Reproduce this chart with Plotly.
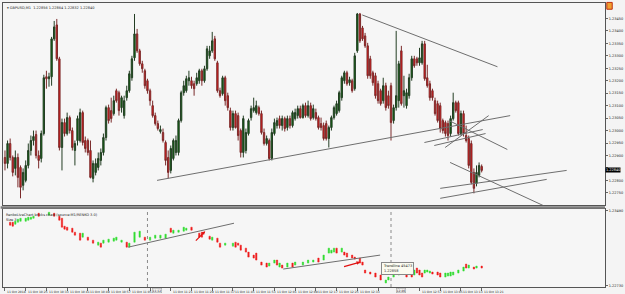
import pandas as pd
import plotly.graph_objects as go

# ---------------- main pane: GBPUSD M1 candles (price) ----------------
op = [1.22892,1.22868,1.22948,1.22892,1.22848,1.22892,1.22852,1.22780,1.22800,1.22860,
      1.22920,1.22960,1.22984,1.22900,1.22888,1.22988,1.23216,1.23208,1.23216,1.23368,
      1.23424,1.23288,1.22932,1.23032,1.22988,1.23052,1.23000,1.22920,1.22960,1.22960,
      1.23072,1.22960,1.22960,1.22920,1.22808,1.22832,1.22852,1.22880,1.22912,1.22972,
      1.23092,1.23080,1.23068,1.23160,1.23152,1.23092,1.23060,1.23132,1.23160,1.23212,
      1.23292,1.23388,1.23320,1.23268,1.23240,1.23200,1.23160,1.23100,1.23060,1.23028,
      1.22996,1.22992,1.22952,1.22892,1.22840,1.22888,1.22912,1.22912,1.23040,1.23152,
      1.23160,1.23200,1.23200,1.23188,1.23188,1.23200,1.23240,1.23200,1.23248,1.23300,
      1.23320,1.23368,1.23272,1.23160,1.23148,1.23212,1.23140,1.23080,1.23012,1.23068,
      1.23060,1.23000,1.22912,1.22920,1.22988,1.23052,1.23080,1.23072,1.23092,1.23068,
      1.22992,1.22948,1.22960,1.22888,1.22988,1.23020,1.23048,1.23020,1.23048,1.23012,
      1.23048,1.23020,1.23048,1.23060,1.23088,1.23052,1.23100,1.23060,1.23100,1.23052,
      1.23072,1.23052,1.23028,1.23020,1.23028,1.22968,1.23012,1.23052,1.23068,1.23080,
      1.23132,1.23200,1.23232,1.23192,1.23200,1.23168,1.23320,1.23468,1.23412,1.23380,
      1.23340,1.23288,1.23232,1.23220,1.23188,1.23160,1.23120,1.23180,1.23140,1.23180,
      1.23040,1.23092,1.23120,1.23320,1.23140,1.23100,1.23140,1.23212,1.23288,1.23288,
      1.23272,1.23272,1.23348,1.23212,1.23188,1.23160,1.23120,1.23108,1.23100,1.23040,
      1.23032,1.23028,1.22988,1.23048,1.23112,1.23112,1.22988,1.23068,1.22980,1.22968,
      1.22948,1.22832,1.22788,1.22820,1.22856]
hi = [1.22920,1.22960,1.22968,1.22900,1.22920,1.22908,1.22860,1.22848,1.22880,1.22948,
      1.22980,1.23000,1.23000,1.22920,1.23000,1.23224,1.23240,1.23232,1.23376,1.23440,
      1.23448,1.23296,1.23048,1.23048,1.23072,1.23060,1.23012,1.22960,1.23060,1.23088,
      1.23080,1.22976,1.22968,1.22960,1.22880,1.22888,1.22912,1.22928,1.22988,1.23100,
      1.23104,1.23132,1.23140,1.23168,1.23160,1.23140,1.23140,1.23180,1.23240,1.23300,
      1.23468,1.23408,1.23328,1.23280,1.23248,1.23208,1.23168,1.23120,1.23072,1.23040,
      1.23020,1.23008,1.22960,1.22920,1.22940,1.22968,1.22980,1.23048,1.23160,1.23200,
      1.23220,1.23240,1.23216,1.23200,1.23232,1.23248,1.23248,1.23260,1.23340,1.23340,
      1.23396,1.23380,1.23280,1.23172,1.23220,1.23220,1.23152,1.23092,1.23080,1.23080,
      1.23072,1.23008,1.23060,1.23008,1.23048,1.23100,1.23132,1.23120,1.23100,1.23080,
      1.23008,1.22980,1.22968,1.23008,1.23048,1.23052,1.23060,1.23060,1.23056,1.23060,
      1.23060,1.23080,1.23088,1.23100,1.23100,1.23108,1.23112,1.23120,1.23112,1.23104,
      1.23088,1.23060,1.23052,1.23032,1.23040,1.23020,1.23060,1.23100,1.23120,1.23160,
      1.23220,1.23240,1.23240,1.23216,1.23208,1.23312,1.23472,1.23472,1.23420,1.23392,
      1.23352,1.23300,1.23240,1.23232,1.23200,1.23168,1.23212,1.23192,1.23160,1.23192,
      1.23104,1.23400,1.23280,1.23340,1.23220,1.23168,1.23228,1.23300,1.23300,1.23296,
      1.23332,1.23360,1.23360,1.23264,1.23200,1.23168,1.23132,1.23120,1.23112,1.23048,
      1.23040,1.23040,1.23060,1.23152,1.23120,1.23120,1.23080,1.23080,1.23020,1.22980,
      1.22960,1.22848,1.22860,1.22872,1.22864]
lo = [1.22840,1.22848,1.22880,1.22816,1.22820,1.22772,1.22728,1.22760,1.22792,1.22848,
      1.22900,1.22940,1.22888,1.22848,1.22872,1.22980,1.23168,1.23176,1.23180,1.23360,
      1.23280,1.22920,1.22840,1.22976,1.22980,1.22988,1.22920,1.22860,1.22940,1.22952,
      1.22940,1.22912,1.22900,1.22808,1.22792,1.22820,1.22840,1.22860,1.22900,1.22960,
      1.23028,1.23032,1.23060,1.23112,1.23060,1.23072,1.23048,1.23120,1.23152,1.23200,
      1.23280,1.23312,1.23260,1.23232,1.23168,1.23148,1.23100,1.23052,1.23020,1.23000,
      1.22988,1.22952,1.22860,1.22808,1.22828,1.22880,1.22900,1.22900,1.23032,1.23140,
      1.23152,1.23180,1.23168,1.23140,1.23180,1.23188,1.23180,1.23192,1.23240,1.23288,
      1.23312,1.23280,1.23152,1.23132,1.23140,1.23100,1.23080,1.23000,1.23000,1.23008,
      1.22960,1.22892,1.22892,1.22908,1.22980,1.23040,1.23072,1.23064,1.23060,1.22984,
      1.22940,1.22940,1.22880,1.22880,1.22980,1.23008,1.23008,1.23000,1.22996,1.23000,
      1.23008,1.23012,1.23040,1.23048,1.23048,1.23048,1.23052,1.23052,1.23040,1.23044,
      1.23040,1.23004,1.23000,1.22960,1.22960,1.22932,1.23000,1.23044,1.23060,1.23072,
      1.23120,1.23188,1.23180,1.23180,1.23152,1.23160,1.23312,1.23352,1.23360,1.23332,
      1.23208,1.23208,1.23180,1.23128,1.23108,1.23100,1.23108,1.23080,1.23088,1.22960,
      1.23028,1.23080,1.23092,1.23100,1.23092,1.23088,1.23128,1.23200,1.23252,1.23260,
      1.23260,1.23264,1.23200,1.23172,1.23120,1.23120,1.23060,1.23032,1.22992,1.22988,
      1.22976,1.22960,1.22976,1.23040,1.23072,1.22980,1.22980,1.22976,1.22952,1.22848,
      1.22784,1.22748,1.22776,1.22812,1.22832]
cl = [1.22868,1.22948,1.22892,1.22832,1.22892,1.22812,1.22772,1.22832,1.22860,1.22920,
      1.22960,1.22976,1.22900,1.22880,1.22988,1.23212,1.23208,1.23216,1.23368,1.23416,
      1.23288,1.22932,1.23032,1.22988,1.23052,1.23000,1.22932,1.22948,1.23048,1.23072,
      1.22952,1.22928,1.22912,1.22812,1.22868,1.22868,1.22888,1.22912,1.22972,1.23092,
      1.23040,1.23048,1.23120,1.23120,1.23080,1.23132,1.23120,1.23160,1.23228,1.23288,
      1.23388,1.23320,1.23268,1.23248,1.23180,1.23160,1.23120,1.23060,1.23028,1.23008,
      1.23004,1.22960,1.22880,1.22832,1.22928,1.22960,1.22960,1.23040,1.23152,1.23180,
      1.23208,1.23212,1.23180,1.23168,1.23212,1.23240,1.23200,1.23248,1.23328,1.23320,
      1.23360,1.23288,1.23160,1.23140,1.23212,1.23120,1.23092,1.23012,1.23068,1.23012,
      1.22980,1.22912,1.23048,1.22992,1.23040,1.23088,1.23092,1.23100,1.23068,1.22992,
      1.22948,1.22968,1.22888,1.22992,1.23032,1.23040,1.23020,1.23048,1.23008,1.23048,
      1.23020,1.23072,1.23072,1.23088,1.23052,1.23100,1.23060,1.23100,1.23048,1.23088,
      1.23048,1.23012,1.23012,1.22968,1.22968,1.23012,1.23052,1.23092,1.23108,1.23152,
      1.23212,1.23232,1.23188,1.23204,1.23160,1.23300,1.23468,1.23360,1.23368,1.23340,
      1.23220,1.23220,1.23192,1.23140,1.23120,1.23108,1.23180,1.23092,1.23100,1.23032,
      1.23092,1.23140,1.23268,1.23108,1.23160,1.23152,1.23212,1.23288,1.23260,1.23272,
      1.23292,1.23348,1.23208,1.23180,1.23132,1.23132,1.23068,1.23040,1.23008,1.23000,
      1.22988,1.22980,1.23048,1.23112,1.23080,1.22988,1.23068,1.22988,1.22960,1.22860,
      1.22792,1.22768,1.22832,1.22860,1.22840]

# ---------------- lower pane: renko bricks (bar index, open, close) ----------------
renko_bar = [2,3,4,5,6,8,9,10,11,13,17,19,21,22,23,24,26,27,29,30,32,34,36,37,38,40,42,43,45,47,
             48,50,52,54,56,58,60,62,64,65,67,69,70,72,75,76,79,80,82,83,85,88,89,90,91,93,94,96,97,99,
             101,102,104,105,106,107,109,111,112,115,117,119,121,123,125,126,127,128,130,131,132,134,135,137,138,139,141,143,145,147,
             148,150,152,153,155,157,158,159,160,161,162,163,164,165,167,168,170,171,172,173,175,177,178,179,181,182,184]
renko_open = [1.2337,1.2337,1.2335,1.2337,1.2338,1.2338,1.2339,1.2340,1.2341,1.2346,1.2344,1.2346,1.2343,1.2341,1.2333,1.2332,1.2331,1.2327,1.2326,1.2322,
              1.2322,1.2319,1.2314,1.2316,1.2316,1.2317,1.2318,1.2319,1.2317,1.2317,
              1.2312,1.2317,1.2322,1.2322,1.2319,1.2321,1.2321,1.2321,1.2331,1.2326,1.2327,1.2328,1.2329,1.2332,1.2326,1.2327,1.2323,1.2319,1.2321,1.2316,
              1.2314,1.2313,1.2317,1.2316,1.2314,1.2311,1.2307,1.2304,1.2306,1.2297,
              1.2296,1.2293,1.2296,1.2299,1.2292,1.2294,1.2292,1.2296,1.2294,1.2294,1.2296,1.2297,1.2301,1.2299,1.2306,1.2306,1.2307,1.2311,1.2307,1.2307,
              1.2306,1.2304,1.2302,1.2301,1.2297,1.2289,1.2287,1.2286,1.2284,1.2276,
              1.2279,1.2282,1.2284,1.2285,1.2287,1.2286,1.2284,1.2291,1.2289,1.2286,1.2286,1.2287,1.2286,1.2287,1.2287,1.2286,1.2282,1.2283,1.2283,1.2284,
              1.2286,1.2288,1.2295,1.2291,1.2292,1.2291,1.2293]
renko_close = [1.2334,1.2333,1.2338,1.2340,1.2341,1.2341,1.2342,1.2342,1.2343,1.2343,1.2347,1.2343,1.2339,1.2332,1.2330,1.2329,1.2327,1.2324,1.2319,1.2326,
               1.2319,1.2316,1.2317,1.2312,1.2319,1.2320,1.2321,1.2322,1.2319,1.2312,
               1.2316,1.2327,1.2328,1.2319,1.2322,1.2324,1.2324,1.2325,1.2327,1.2329,1.2329,1.2332,1.2331,1.2329,1.2322,1.2322,1.2320,1.2322,1.2317,1.2312,
               1.2316,1.2316,1.2312,1.2314,1.2309,1.2307,1.2302,1.2301,1.2299,1.2294,
               1.2292,1.2296,1.2299,1.2294,1.2296,1.2291,1.2296,1.2292,1.2297,1.2297,1.2299,1.2299,1.2297,1.2304,1.2311,1.2309,1.2311,1.2306,1.2311,1.2304,
               1.2302,1.2301,1.2300,1.2296,1.2294,1.2286,1.2285,1.2282,1.2279,1.2279,
               1.2282,1.2286,1.2287,1.2288,1.2282,1.2282,1.2289,1.2286,1.2284,1.2282,1.2289,1.2289,1.2288,1.2285,1.2284,1.2282,1.2286,1.2286,1.2287,1.2287,
               1.2289,1.2292,1.2291,1.2294,1.2290,1.2293,1.2291]

# trendlines: (bar offset start, price start, bar offset end, price end)
main_tl_x0 = [137.9, 58.7, 161.9, 165.7, 169.9, 171.4, 171.8, 168.0, 168.0]
main_tl_y0 = [1.23464, 1.22800, 1.22952, 1.22940, 1.22932, 1.23040, 1.22872, 1.22768, 1.22728]
main_tl_x1 = [190.1, 195.0, 184.4, 185.5, 186.7, 193.9, 208.4, 216.8, 209.1]
main_tl_y1 = [1.23256, 1.23060, 1.23004, 1.22988, 1.23060, 1.22924, 1.22696, 1.22840, 1.22804]
low_tl_x0 = [47.6, 107.4]
low_tl_y0 = [1.2312, 1.2290]
low_tl_x1 = [88.4, 144.8]
low_tl_y1 = [1.2336, 1.2304]
arrow_x0 = [73.1, 130.3]
arrow_y0 = [1.2317, 1.2292]
arrow_x1 = [77.3, 137.1]
arrow_y1 = [1.2328, 1.2297]

main_ticks = [1.2275, 1.2280, 1.2285, 1.2290, 1.2295, 1.2300, 1.2305, 1.2310,
              1.2315, 1.2320, 1.2325, 1.2330, 1.2335, 1.2340, 1.2345]
low_ticks = [1.2349, 1.2273]
label_step_min = 8
sep_bars = [55, 149]
sep_labels = ["11:12", "12:46"]

start = pd.Timestamp("2018-10-11 10:17")
def t(v):
    return start + pd.Timedelta(minutes=float(v))

times = [t(i) for i in range(len(op))]

fig = go.Figure()
fig.add_trace(go.Candlestick(
    x=times, open=op, high=hi, low=lo, close=cl, xaxis="x", yaxis="y",
    increasing=dict(fillcolor="#0a6a0a", line=dict(color="#233d23", width=1)),
    decreasing=dict(fillcolor="#ee1414", line=dict(color="#7a2a2a", width=1)),
    showlegend=False, hoverinfo="skip"))

rk_x = [times[b] for b in renko_bar]
rk_hi = [max(a, b) for a, b in zip(renko_open, renko_close)]
rk_lo = [min(a, b) for a, b in zip(renko_open, renko_close)]
fig.add_trace(go.Candlestick(
    x=rk_x, open=renko_open, high=rk_hi, low=rk_lo, close=renko_close,
    xaxis="x2", yaxis="y2",
    increasing=dict(fillcolor="#33dd33", line=dict(color="#33dd33", width=0.5)),
    decreasing=dict(fillcolor="#ee1c1c", line=dict(color="#ee1c1c", width=0.5)),
    showlegend=False, hoverinfo="skip"))

shapes = []
for a, b, c, d in zip(main_tl_x0, main_tl_y0, main_tl_x1, main_tl_y1):
    shapes.append(dict(type="line", xref="x", yref="y", x0=t(a), y0=b, x1=t(c), y1=d,
                       line=dict(color="#6e6e6e", width=1)))
for a, b, c, d in zip(low_tl_x0, low_tl_y0, low_tl_x1, low_tl_y1):
    shapes.append(dict(type="line", xref="x2", yref="y2", x0=t(a), y0=b, x1=t(c), y1=d,
                       line=dict(color="#6e6e6e", width=1)))
for s in sep_bars:
    shapes.append(dict(type="line", xref="x2", yref="y2 domain", x0=t(s), x1=t(s), y0=0, y1=1,
                       line=dict(color="#8a8a8a", width=1, dash="dot")))
# pane separator
shapes.append(dict(type="rect", xref="paper", yref="paper", x0=-0.004, x1=1.0, y0=0.2757, y1=0.2842,
                   fillcolor="#7c7c7c", line=dict(width=0)))
# small icon top right
shapes.append(dict(type="rect", xref="paper", yref="paper", x0=1.003, x1=1.012, y0=0.978, y1=1.002,
                   fillcolor="#f0a030", line=dict(color="#c03010", width=1)))

ann = []
ann.append(dict(xref="paper", yref="paper", x=0.004, y=0.997, xanchor="left", yanchor="top",
                text="▾ GBPUSD,M1  1.22856 1.22864 1.22832 1.22840", showarrow=False,
                font=dict(size=3.5, color="#222")))
ann.append(dict(xref="paper", yref="paper", x=0.002, y=0.268, xanchor="left", yanchor="top",
                text="RenkoLiveChart bricks chart (source:M1/RENKO 3.0)<br>Size 3", showarrow=False,
                align="left", font=dict(size=3.5, color="#222")))
ann.append(dict(xref="paper", yref="y", x=1.0, y=cl[-1], xanchor="left", yanchor="middle",
                text="1.22840", showarrow=False, bgcolor="#000", borderpad=0,
                font=dict(size=3.5, color="#fff")))
for a, b, c, d in zip(arrow_x0, arrow_y0, arrow_x1, arrow_y1):
    ann.append(dict(xref="x2", yref="y2", axref="x2", ayref="y2", x=t(c), y=d, ax=t(a), ay=b,
                    text="", showarrow=True, arrowhead=2, arrowsize=0.6, arrowwidth=1.2,
                    arrowcolor="#e01010"))
ann.append(dict(xref="x2", yref="y2", x=t(145.3), y=1.2297, xanchor="left", yanchor="top",
                text="Trendline 45473<br>1.22858", showarrow=False, align="left",
                bgcolor="#fbfbf0", bordercolor="#888", borderwidth=1, borderpad=1,
                font=dict(size=3.5, color="#222")))
# time labels
tick_times = []
k = 0
while k * label_step_min < len(op):
    m = k * label_step_min
    tick_times.append(t(m))
    if k == 0:
        txt = "11 Oct 2018"
    else:
        txt = t(m).strftime("%d %b %H:%M")
    hidden = any(-4 < s - m < 6 for s in sep_bars)
    if not hidden:
        ann.append(dict(xref="x2", yref="paper", x=t(m), y=0, xanchor="left", yanchor="top",
                        xshift=0.5, yshift=-0.5, text=txt, showarrow=False,
                        font=dict(size=3, color="#222")))
    k += 1
for s, lab in zip(sep_bars, sep_labels):
    ann.append(dict(xref="x2", yref="paper", x=t(s), y=0, xanchor="left", yanchor="top",
                    xshift=5, yshift=-0.5, text=lab, showarrow=False, bgcolor="#f2f2f2",
                    bordercolor="#999", borderwidth=0.5, borderpad=0,
                    font=dict(size=3, color="#222")))

xr = [t(-0.76), t(231.6)]
axis_common = dict(showgrid=False, zeroline=False, showline=True, linecolor="#555", linewidth=1,
                   mirror=True)
main_text = ["" if abs(v - cl[-1]) < 0.0003 else f"{v:.5f}" for v in main_ticks]
fig.update_layout(
    width=625, height=294,
    margin=dict(l=2, r=13, t=2, b=7),
    paper_bgcolor="#f4f4f4", plot_bgcolor="#f6f6f6",
    font=dict(family="DejaVu Sans", size=4, color="#222"),
    boxgap=0.25,
    xaxis=dict(domain=[0, 1], anchor="y", type="date", range=xr, showticklabels=False,
               rangeslider=dict(visible=False), **axis_common),
    xaxis2=dict(domain=[0, 1], anchor="y2", type="date", range=xr, matches="x",
                showticklabels=False, rangeslider=dict(visible=False),
                ticks="outside", ticklen=3, tickcolor="#666", tickmode="array", tickvals=tick_times,
                **axis_common),
    yaxis=dict(domain=[0.2877, 1], anchor="x", side="right", range=[1.22700, 1.23512],
               tickmode="array", tickvals=main_ticks, ticktext=main_text,
               ticks="outside", ticklen=2, tickcolor="#666", tickfont=dict(size=3.5), **axis_common),
    yaxis2=dict(domain=[0, 0.2737], anchor="x2", side="right", range=[1.2272, 1.2350],
                tickmode="array", tickvals=low_ticks, ticktext=[f"{v:.5f}" for v in low_ticks],
                ticks="outside", ticklen=2, tickcolor="#666", tickfont=dict(size=3.5), **axis_common),
    shapes=shapes, annotations=ann,
)
fig.write_html("out.html")
